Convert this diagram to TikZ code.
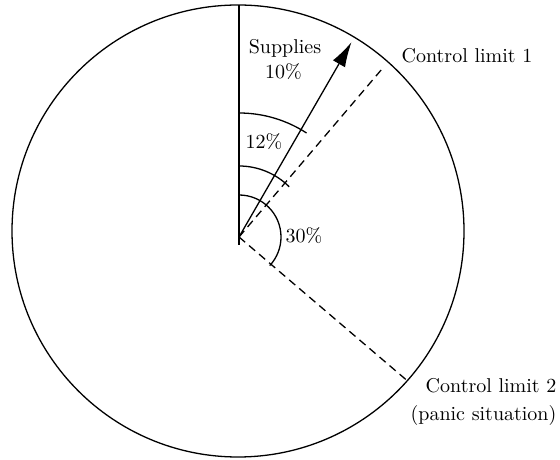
\documentclass[tikz,border=0pt]{standalone}
\usepackage{tikz}
\usetikzlibrary{arrows.meta}

\begin{document}
\begin{tikzpicture}[x=0.5pt, y=0.5pt, line width=0.65pt,
  lbl/.style={inner sep=0pt},
  limit/.style={dash pattern=on 4pt off 2.6pt}]
\useasboundingbox (0,0) rectangle (560,459);

% centre of the disc and vertex of the angles
\coordinate (c) at (238,228);
\coordinate (o) at (239,222);
\coordinate (top) at (239,454);
\coordinate (base) at (239,214);
\coordinate (tip) at ([shift={(60:225)}]o);
\coordinate (lim1end) at ([shift={(49.6:224)}]o);
\coordinate (lim2end) at ([shift={(-40.5:220)}]o);

\draw (c) circle (226);
\draw (base) -- (top);
\draw[-{Latex[length=12.5pt,width=7pt]}] (o) -- (tip);
\draw[limit] (o) -- (lim1end);
\draw[limit] (o) -- (lim2end);

% angle arcs
\draw ([shift={(90:124)}]o) arc (90:57:124);
\draw ([shift={(90:71)}]o) arc (90:45:71);
\draw ([shift={(90:42)}]o) arc (90:-43:42);

\node[lbl, anchor=base] (sup) at (285,405) {Supplies};
\node[lbl, anchor=base] (pct10) at (283.5,380) {10\%};
\node[lbl, anchor=base] (pct12) at (264,310) {12\%};
\node[lbl, anchor=base west] (pct30) at (285,216) {30\%};
\node[lbl, anchor=base west] (lim1) at (401,396) {Control limit 1};
\node[lbl, anchor=base east] (lim2) at (557,66) {Control limit 2};
\node[lbl, anchor=base east] (panic) at (557,39) {(panic situation)};
\end{tikzpicture}
\end{document}
